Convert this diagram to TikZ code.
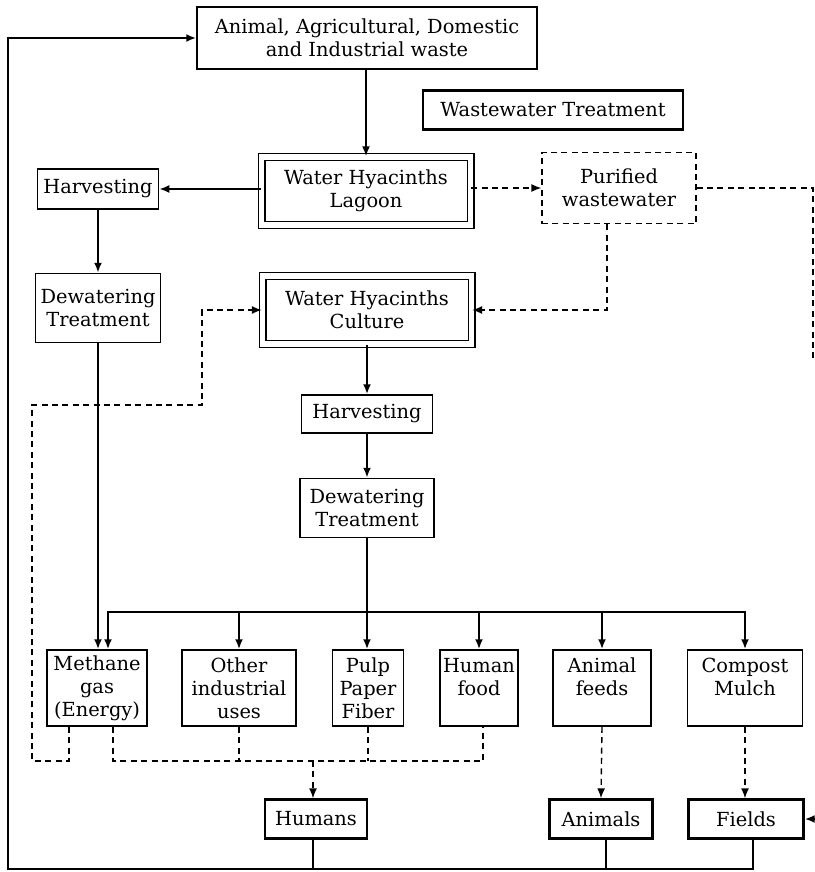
\documentclass[tikz,border=0pt]{standalone}
\usepackage{fontspec}
\setmainfont{DejaVu Serif}
\usepackage{tikz}
\usetikzlibrary{arrows.meta,positioning}

\begin{document}
\begin{tikzpicture}[
    x=0.5pt, y=-0.5pt,
    >={Latex[length=5pt,width=4pt]},
    box/.style={rectangle, draw, line width=0.75pt, inner sep=0pt, align=center, font=\fontsize{9.7}{11.5}\selectfont},
    sz/.style 2 args={minimum width=#1*0.5pt, minimum height=#2*0.5pt},
    dbox/.style={box, line width=0.65pt, double, double distance=2.7pt},
    tbox/.style={box, line width=1.2pt},
    pbox/.style={box, line width=0.65pt, dash pattern=on 3pt off 2.2pt},
    flow/.style={line width=1.2pt},
    back/.style={line width=0.7pt, dash pattern=on 3pt off 2.2pt},
]
\useasboundingbox (0,0) rectangle (814,872);

% Sources and lagoon
\node[box, sz={340}{62}] (waste) at (367,38) {Animal, Agricultural, Domestic\\and Industrial waste};
\node[tbox, sz={260}{39}] (wwt) at (553,110) {Wastewater Treatment};
\node[dbox, sz={209}{68}] (lagoon) at (366,191) {Water Hyacinths\\Lagoon};
\node[box, sz={121}{40}] (harvL) at (98,189) {Harvesting};
\node[pbox, sz={154}{71}] (purified) at (619,188) {Purified\\wastewater};
\node[box, sz={125}{69}] (dewL) at (98,308) {Dewatering\\Treatment};

% Culture line
\node[dbox, sz={209}{68}] (culture) at (367,310) {Water Hyacinths\\Culture};
\node[box, sz={131}{38}] (harvC) at (367,414) {Harvesting};
\node[box, sz={134}{59}] (dewC) at (367,508) {Dewatering\\Treatment};

% Products
\node[box, sz={100}{76}] (methane) at (97,688) {Methane\\gas\\(Energy)};
\node[box, sz={114}{76}] (other) at (239,688) {Other\\industrial\\uses};
\node[box, sz={71}{76}] (pulp) at (368,688) {Pulp\\Paper\\Fiber};
\node[box, sz={78}{76}] (food) at (479,688) {Human\\food\\~};
\node[box, sz={98}{76}] (feeds) at (602,688) {Animal\\feeds\\~};
\node[box, sz={115}{76}] (compost) at (745,688) {Compost\\Mulch\\~};

% Users
\node[tbox, sz={102}{39}] (humans) at (316,819) {Humans};
\node[tbox, sz={103}{39}] (animals) at (601,819) {Animals};
\node[tbox, sz={115}{39}] (fields) at (746,819) {Fields};

% Bend points
\coordinate (loopBL) at (8,869);
\coordinate (edgeEnd) at (813,362);
\coordinate (edgeF) at (814,819);
\coordinate (bus) at (367,612);
\coordinate (retA) at (32,761);
\coordinate (retB) at (202,405);
\coordinate (hub) at (313,761);
\coordinate (hubR) at (483,761);

% Solid flows
\draw[flow,->] (waste.south -| lagoon.north) -- (lagoon.north);
\draw[flow,->] (lagoon.west |- harvL) -- (harvL.east);
\draw[flow,->] (harvL.south) -- (dewL.north);
\draw[flow,->] (dewL.south) -- (dewL.south |- methane.north);
\draw[flow,->] (culture.south) -- (harvC.north);
\draw[flow,->] (harvC.south) -- (dewC.north);
\draw[flow,->] (dewC.south) -- (dewC.south |- pulp.north);
\draw[flow,->] (bus) -| ([xshift=5.5pt]methane.north);
\draw[flow,->] (bus) -| (compost.north);
\draw[flow,->] (bus -| other.north) -- (other.north);
\draw[flow,->] (bus -| food.north) -- (food.north);
\draw[flow,->] (bus -| feeds.north) -- (feeds.north);

% Return loop
\draw[flow,->] ([xshift=3.5pt]fields.south) |- (loopBL) |- (waste.west);
\draw[flow] ([xshift=-1.5pt]humans.south) -- ([xshift=-1.5pt]humans.south |- loopBL);
\draw[flow] ([xshift=2.5pt]animals.south) -- ([xshift=2.5pt]animals.south |- loopBL);
\draw[flow,->] (edgeF) -- (fields.east);

% Dashed flows
\draw[back,->] (lagoon.east |- purified) -- (purified.west);
\draw[back] (purified.east) -- (purified.east -| edgeEnd) -- (edgeEnd);
\draw[back,->] ([xshift=-6pt]purified.south) |- (culture.east);
\draw[back,->] ([xshift=-14pt]methane.south) |- (retA) |- (retB) |- (culture.west);
\draw[back] ([xshift=8pt]methane.south) |- (hubR) -- (hubR |- food.south);
\draw[back] (other.south) -- (other.south |- hub);
\draw[back] (pulp.south) -- (pulp.south |- hub);
\draw[back,->] (hub) -- (hub |- humans.north);
\draw[back,->] (feeds.south) -- (animals.north);
\draw[back,->] (compost.south) -- (compost.south |- fields.north);

\end{tikzpicture}
\end{document}
